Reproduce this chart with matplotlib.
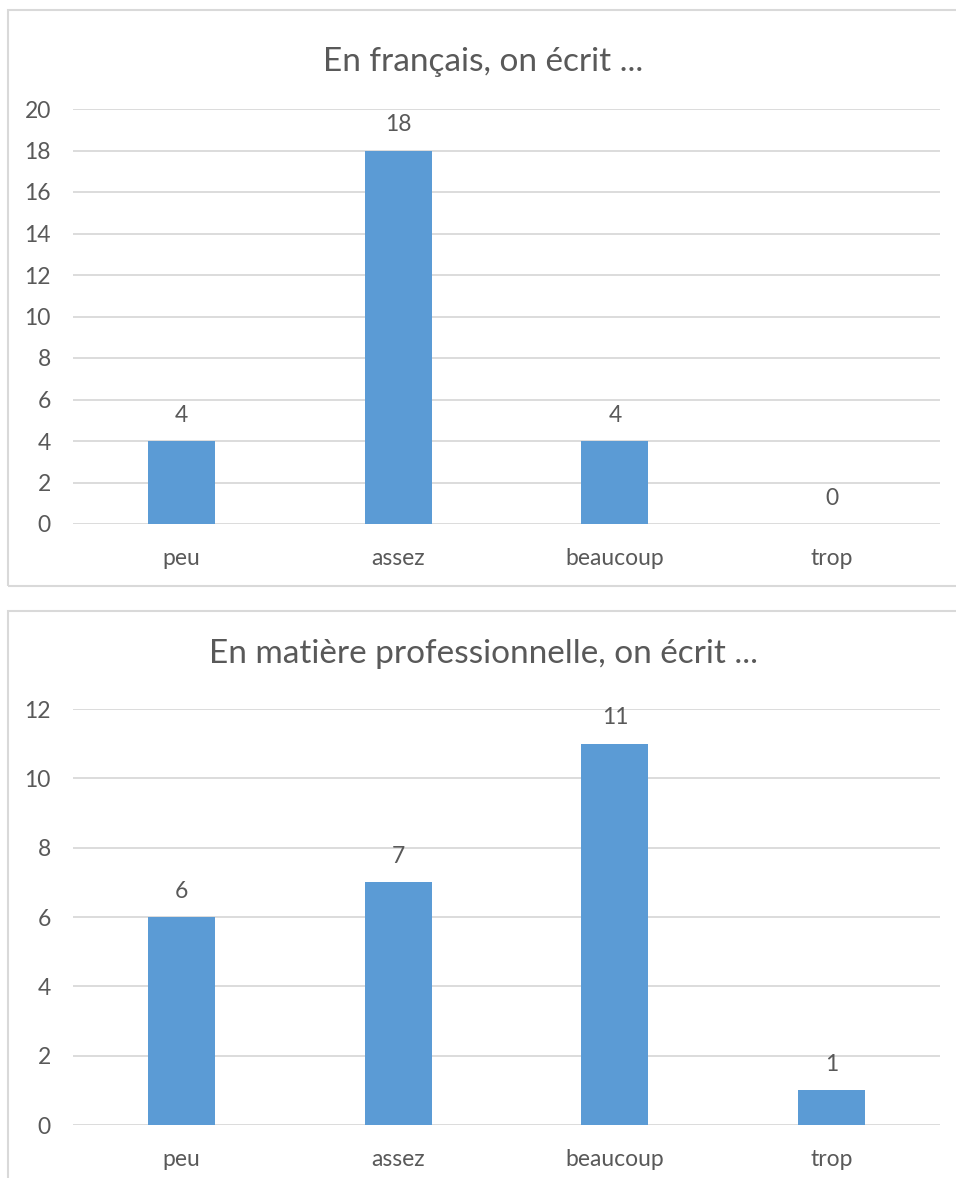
import matplotlib.pyplot as plt
from matplotlib.patches import Rectangle

categories = ["peu", "assez", "beaucoup", "trop"]
values_fr = [4, 18, 4, 0]
values_pro = [6, 7, 11, 1]
title_fr = "En français, on écrit ..."
title_pro = "En matière professionnelle, on écrit ..."

BAR = "#5B9BD5"
TXT = "#595959"
GRID = "#D9D9D9"

plt.rcParams['font.family'] = ['Lato', 'DejaVu Sans']

W, H = 956, 1178
fig = plt.figure(figsize=(W / 100, H / 100), dpi=100)


def px_axes(left, top, right, bottom):
    return fig.add_axes([left / W, 1 - bottom / H, (right - left) / W, (bottom - top) / H])


def frame(x0, y0, x1, y1):
    fig.patches.append(Rectangle((x0 / W, 1 - y1 / H), (x1 - x0) / W, (y1 - y0) / H,
                                 transform=fig.transFigure, fill=False,
                                 edgecolor=GRID, linewidth=1.5))


def bar_chart(ax, vals, ymax, step, title, title_y):
    x = range(len(categories))
    ax.bar(x, vals, width=0.31, color=BAR, zorder=3)
    ax.set_xlim(-0.5, len(categories) - 0.5)
    ax.set_ylim(0, ymax)
    ax.set_yticks(range(0, ymax + 1, step))
    ax.set_xticks(list(x))
    ax.set_xticklabels(categories)
    ax.grid(axis='y', color=GRID, linewidth=1.3, zorder=0)
    for s in ax.spines.values():
        s.set_visible(False)
    ax.tick_params(axis='both', length=0, colors=TXT, labelsize=16.5)
    ax.tick_params(axis='y', pad=16)
    ax.tick_params(axis='x', pad=17)
    for i, v in enumerate(vals):
        ax.annotate(str(v), (i, v), xytext=(0, 11), textcoords='offset points',
                    ha='center', va='bottom', color=TXT, fontsize=16.5)
    fig.text(483 / W, 1 - title_y / H, title, ha='center', va='center',
             color=TXT, fontsize=24)


frame(8, 10, 980, 586)
frame(8, 611, 980, 1200)

ax1 = px_axes(73, 109, 940, 524)
bar_chart(ax1, values_fr, 20, 2, title_fr, 62)

ax2 = px_axes(73, 709, 940, 1125)
bar_chart(ax2, values_pro, 12, 2, title_pro, 654)

fig.savefig("out.png", dpi=100)
